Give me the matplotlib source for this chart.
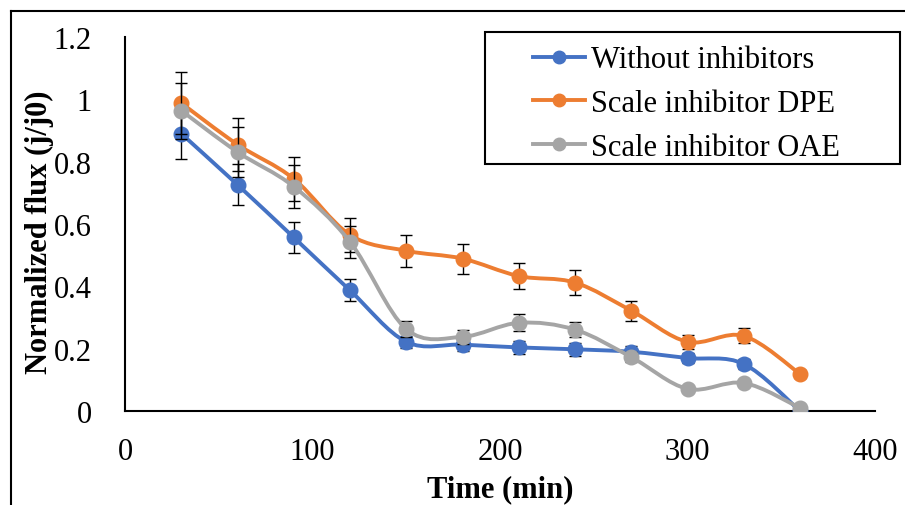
import numpy as np
import matplotlib
matplotlib.use('Agg')
import matplotlib.pyplot as plt
from matplotlib.path import Path
from matplotlib.patches import PathPatch, Rectangle
from matplotlib.lines import Line2D

plt.rcParams['font.family'] = ['Liberation Serif', 'DejaVu Serif']

# data
time_min = [30, 60, 90, 120, 150, 180, 210, 240, 270, 300, 330, 360]
without_inh = [0.89, 0.726, 0.557, 0.387, 0.222, 0.213, 0.204, 0.198, 0.19, 0.17, 0.151, 0.0]
dpe = [0.988, 0.855, 0.745, 0.565, 0.514, 0.489, 0.433, 0.412, 0.322, 0.222, 0.241, 0.119]
oae = [0.964, 0.831, 0.72, 0.543, 0.263, 0.238, 0.283, 0.261, 0.173, 0.071, 0.09, 0.01]
without_err = [0.08, 0.065, 0.05, 0.035, 0.02, 0.02, 0.02, 0.02, 0.017, 0.015, 0.015, 0.0]
dpe_err = [0.1, 0.085, 0.07, 0.055, 0.052, 0.048, 0.042, 0.04, 0.032, 0.022, 0.024, 0.012]
oae_err = [0.09, 0.08, 0.07, 0.052, 0.025, 0.023, 0.027, 0.025, 0.017, 0.007, 0.009, 0.001]

labels = ['Without inhibitors', 'Scale inhibitor DPE', 'Scale inhibitor OAE']
colors = ['#4472C4', '#ED7D31', '#A5A5A5']
series = [without_inh, dpe, oae]
errors = [without_err, dpe_err, oae_err]


def smooth_path(x, y):
    # excel-like smoothed line: catmull-rom as cubic bezier segments
    pts = np.column_stack([x, y]).astype(float)
    n = len(pts)
    verts = [pts[0]]
    codes = [Path.MOVETO]
    for i in range(n - 1):
        p0 = pts[max(i - 1, 0)]
        p1 = pts[i]
        p2 = pts[i + 1]
        p3 = pts[min(i + 2, n - 1)]
        verts += [p1 + (p2 - p0) / 6, p2 - (p3 - p1) / 6, p2]
        codes += [Path.CURVE4] * 3
    return Path(verts, codes)


W, H = 905, 506
fig = plt.figure(figsize=(W / 100, H / 100), dpi=100)
ax = fig.add_axes([125 / W, 1 - 412 / H, 750 / W, 374 / H])

for k, (vals, err, col) in enumerate(zip(series, errors, colors)):
    ax.errorbar(time_min, vals, yerr=err, fmt='none', ecolor='black',
                elinewidth=1.0, capsize=4.5, capthick=1.0, zorder=2 + 3 * k)
    patch = PathPatch(smooth_path(time_min, vals), facecolor='none', edgecolor=col,
                      lw=2.8, capstyle='round', joinstyle='round', zorder=3 + 3 * k)
    ax.add_patch(patch)
    ax.plot(time_min, vals, 'o', color=col, ms=10.5, ls='none', zorder=4 + 3 * k)

ax.set_xlim(0, 400)
ax.set_ylim(0, 1.2)
ax.set_xticks([0, 100, 200, 300, 400])
ax.set_yticks([0, 0.2, 0.4, 0.6, 0.8, 1.0, 1.2])
ax.set_yticklabels(['0', '0.2', '0.4', '0.6', '0.8', '1', '1.2'])
ax.tick_params(axis='both', length=0, labelsize=22)
ax.tick_params(axis='x', pad=19)
ax.tick_params(axis='y', pad=24)
for s in ['top', 'right']:
    ax.spines[s].set_visible(False)
for s in ['left', 'bottom']:
    ax.spines[s].set_linewidth(1.5)

fig.text(500 / W, 1 - 490 / H, 'Time (min)', ha='center', va='center',
         fontsize=22, fontweight='bold')
fig.text(39 / W, 1 - 232 / H, 'Normalized flux (j/j0)', ha='center', va='center',
         rotation=90, fontsize=22, fontweight='bold')

# legend with its own box
handles = [Line2D([0], [0], color=c, lw=2.8, marker='o', ms=9) for c in colors]
fig.legend(handles, labels, loc='upper left', bbox_to_anchor=(512 / W, 1 - 25 / H),
           frameon=False, fontsize=22, handlelength=1.7, handletextpad=0.2,
           labelspacing=0.48, borderpad=0.2)
fig.add_artist(Rectangle((485 / W, 1 - 165 / H), 415 / W, 132 / H, transform=fig.transFigure,
                         fill=False, edgecolor='black', lw=1.5))

# outer chart frame (top and left visible)
fig.add_artist(Line2D([11 / W, 1], [1 - 12 / H, 1 - 12 / H], transform=fig.transFigure,
                      color='black', lw=1.5))
fig.add_artist(Line2D([11 / W, 11 / W], [0, 1 - 12 / H], transform=fig.transFigure,
                      color='black', lw=1.5))

fig.savefig('out.png', dpi=100)
